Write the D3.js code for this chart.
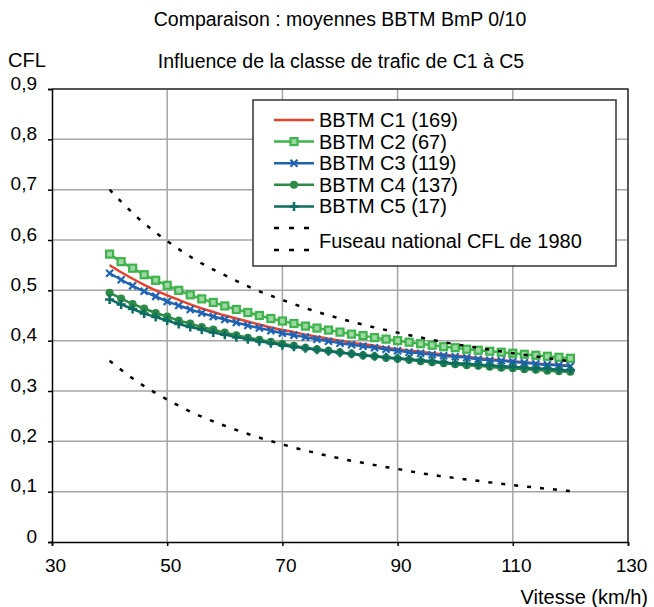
<!DOCTYPE html>
<html>
<head>
<meta charset="utf-8">
<script src="https://cdn.jsdelivr.net/npm/d3@7"></script>
<style>
  body { margin: 0; background: #fff; }
  text { font-family: "Liberation Sans", Arial, sans-serif; fill: #000; }
</style>
</head>
<body>
<svg id="chart" width="654" height="607"></svg>
<script>
// vitesse (km/h), a point every 2 km/h
var speeds = [40, 42, 44, 46, 48, 50, 52, 54, 56, 58, 60, 62, 64, 66, 68, 70, 72, 74, 76, 78, 80,
  82, 84, 86, 88, 90, 92, 94, 96, 98, 100, 102, 104, 106, 108, 110, 112, 114, 116, 118, 120];

var c1 = [0.550, 0.536, 0.523, 0.511, 0.500, 0.490, 0.481, 0.472, 0.464, 0.457, 0.450, 0.444, 0.438, 0.432,
  0.426, 0.421, 0.417, 0.412, 0.408, 0.404, 0.400, 0.396, 0.393, 0.390, 0.386, 0.383, 0.380, 0.378,
  0.375, 0.372, 0.370, 0.368, 0.365, 0.363, 0.361, 0.359, 0.357, 0.355, 0.353, 0.352, 0.350];
var c2 = [0.572, 0.557, 0.544, 0.531, 0.520, 0.510, 0.500, 0.491, 0.483, 0.476, 0.469, 0.462, 0.456, 0.450,
  0.444, 0.439, 0.434, 0.429, 0.425, 0.421, 0.417, 0.413, 0.410, 0.406, 0.403, 0.400, 0.397, 0.394,
  0.391, 0.388, 0.386, 0.383, 0.381, 0.379, 0.377, 0.375, 0.373, 0.371, 0.369, 0.367, 0.365];
var c3 = [0.534, 0.521, 0.509, 0.498, 0.488, 0.478, 0.470, 0.462, 0.455, 0.448, 0.442, 0.436, 0.430, 0.425,
  0.420, 0.415, 0.411, 0.407, 0.403, 0.399, 0.395, 0.392, 0.389, 0.386, 0.383, 0.380, 0.377, 0.375,
  0.372, 0.370, 0.368, 0.366, 0.363, 0.361, 0.360, 0.358, 0.356, 0.354, 0.352, 0.351, 0.349];
var c4 = [0.495, 0.484, 0.473, 0.464, 0.455, 0.448, 0.440, 0.434, 0.427, 0.422, 0.416, 0.411, 0.406, 0.402,
  0.398, 0.394, 0.390, 0.386, 0.383, 0.380, 0.377, 0.374, 0.371, 0.369, 0.366, 0.364, 0.362, 0.359,
  0.357, 0.355, 0.353, 0.351, 0.350, 0.348, 0.346, 0.345, 0.343, 0.342, 0.340, 0.339, 0.338];
var c5 = [0.482, 0.472, 0.463, 0.454, 0.447, 0.440, 0.433, 0.427, 0.422, 0.416, 0.412, 0.407, 0.403, 0.399,
  0.395, 0.391, 0.388, 0.385, 0.382, 0.379, 0.376, 0.374, 0.371, 0.369, 0.367, 0.365, 0.363, 0.361,
  0.359, 0.357, 0.355, 0.354, 0.352, 0.351, 0.349, 0.348, 0.346, 0.345, 0.344, 0.342, 0.341];

// fuseau national CFL 1980 (bornes), a point every 5 km/h
var fuseauSpeeds = [40, 45, 50, 55, 60, 65, 70, 75, 80, 85, 90, 95, 100, 105, 110, 115, 120];
var fuseauHaut = [0.700, 0.643, 0.598, 0.560, 0.530, 0.503, 0.481, 0.461, 0.444, 0.429, 0.416, 0.404,
  0.393, 0.384, 0.375, 0.367, 0.359];
var fuseauBas = [0.360, 0.317, 0.283, 0.254, 0.231, 0.211, 0.194, 0.179, 0.166, 0.155, 0.145, 0.135,
  0.127, 0.120, 0.113, 0.107, 0.101];

var seriesNames = ['BBTM C1 (169)', 'BBTM C2 (67)', 'BBTM C3 (119)', 'BBTM C4 (137)', 'BBTM C5 (17)'];
var fuseauName = 'Fuseau national CFL de 1980';
var xTicks = [30, 50, 70, 90, 110, 130];
var yTicks = [0, 0.1, 0.2, 0.3, 0.4, 0.5, 0.6, 0.7, 0.8, 0.9];

var svg = d3.select('#chart');

var x = d3.scaleLinear().domain([30, 130]).range([52, 628]);
var y = d3.scaleLinear().domain([0, 0.9]).range([542, 89]);

var fmt = function(d) { return d === 0 ? '0' : d3.format('.1f')(d).replace('.', ','); };

// grid
svg.append('g').selectAll('line.h').data(yTicks.slice(1)).enter().append('line')
    .attr('x1', x(30)).attr('x2', x(130))
    .attr('y1', function(d) { return y(d); }).attr('y2', function(d) { return y(d); })
    .attr('stroke', '#a6a6a6').attr('stroke-width', 1.5);
svg.append('g').selectAll('line.v').data(xTicks.slice(1)).enter().append('line')
    .attr('y1', y(0)).attr('y2', y(0.9))
    .attr('x1', function(d) { return x(d); }).attr('x2', function(d) { return x(d); })
    .attr('stroke', '#a6a6a6').attr('stroke-width', 1.5);

// plot frame (top / right)
svg.append('path')
    .attr('d', 'M' + x(30) + ',' + y(0.9) + 'H' + x(130) + 'V' + y(0))
    .attr('fill', 'none').attr('stroke', '#333').attr('stroke-width', 1.5);

// axes
var yAxis = svg.append('g')
    .attr('transform', 'translate(' + x(30) + ',0)')
    .call(d3.axisLeft(y).tickValues(yTicks).tickSize(4).tickFormat(fmt));
var xAxis = svg.append('g')
    .attr('transform', 'translate(0,' + y(0) + ')')
    .call(d3.axisBottom(x).tickValues(xTicks).tickSize(4).tickFormat(d3.format('d')));

[yAxis, xAxis].forEach(function(g) {
  g.select('.domain').attr('stroke', '#000').attr('stroke-width', 1.5);
  g.selectAll('.tick line').attr('stroke', '#000').attr('stroke-width', 1.5);
  g.selectAll('text').style('font-size', '19px').attr('fill', '#000')
      .style('font-family', '"Liberation Sans", Arial, sans-serif');
});
yAxis.selectAll('text').attr('x', -15).attr('dy', '-0.0em');
xAxis.selectAll('text').attr('y', 17).attr('dx', 3);

// series
var colors = ['#e8412c', '#3db54a', '#1f63b3', '#2e8b45', '#0e6d62'];
var values = [c1, c2, c3, c4, c5];
var symbols = [null, 'square', 'x', 'circle', 'plus'];

var line = d3.line()
    .x(function(d) { return x(d[0]); })
    .y(function(d) { return y(d[1]); })
    .curve(d3.curveMonotoneX);

function drawMarker(g, kind, color) {
  if (kind === 'square') {
    g.append('rect').attr('x', -3.5).attr('y', -3.5).attr('width', 7).attr('height', 7)
        .attr('fill', '#9ed7a4').attr('stroke', color).attr('stroke-width', 2.2);
  } else if (kind === 'x') {
    g.append('path').attr('d', 'M-3.5,-3.5L3.5,3.5M-3.5,3.5L3.5,-3.5')
        .attr('stroke', color).attr('stroke-width', 2.2).attr('fill', 'none');
  } else if (kind === 'circle') {
    g.append('circle').attr('r', 4).attr('fill', color);
  } else if (kind === 'plus') {
    g.append('path').attr('d', 'M-4.5,0L4.5,0M0,-4.5L0,4.5')
        .attr('stroke', color).attr('stroke-width', 2.5).attr('fill', 'none');
  }
}

values.forEach(function(vals, i) {
  var pts = speeds.map(function(s, j) { return [s, vals[j]]; });
  var g = svg.append('g');
  g.append('path').datum(pts)
      .attr('d', line)
      .attr('fill', 'none')
      .attr('stroke', colors[i])
      .attr('stroke-width', 2.5);
  if (symbols[i]) {
    g.selectAll('g.m').data(pts).enter().append('g')
        .attr('transform', function(d) { return 'translate(' + x(d[0]) + ',' + y(d[1]) + ')'; })
        .each(function() { drawMarker(d3.select(this), symbols[i], colors[i]); });
  }
});

// fuseau
[fuseauHaut, fuseauBas].forEach(function(vals) {
  var pts = fuseauSpeeds.map(function(s, j) { return [s, vals[j]]; });
  svg.append('path').datum(pts)
      .attr('d', line)
      .attr('fill', 'none')
      .attr('stroke', '#000')
      .attr('stroke-width', 2.5)
      .attr('stroke-dasharray', '4,9');
});

// legend
var legend = svg.append('g');
legend.append('rect')
    .attr('x', 253).attr('y', 100).attr('width', 363).attr('height', 166)
    .attr('fill', '#fff').attr('stroke', '#333').attr('stroke-width', 1.5);
seriesNames.forEach(function(name, i) {
  var cy = 120 + i * 21.6;
  legend.append('line').attr('x1', 274).attr('x2', 314).attr('y1', cy).attr('y2', cy)
      .attr('stroke', colors[i]).attr('stroke-width', 2.5);
  if (symbols[i]) {
    var m = legend.append('g').attr('transform', 'translate(294,' + cy + ')');
    drawMarker(m, symbols[i], colors[i]);
  }
  legend.append('text').attr('x', 319).attr('y', cy + 7)
      .style('font-size', '20px').text(name);
});
[228, 250].forEach(function(cy) {
  legend.append('line').attr('x1', 274).attr('x2', 314).attr('y1', cy).attr('y2', cy)
      .attr('stroke', '#000').attr('stroke-width', 2.5).attr('stroke-dasharray', '5,10');
});
legend.append('text').attr('x', 319).attr('y', 248)
    .style('font-size', '20px').text(fuseauName);

// titles
svg.append('text').attr('x', 340).attr('y', 26).attr('text-anchor', 'middle')
    .style('font-size', '19.5px').text('Comparaison : moyennes BBTM BmP 0/10');
svg.append('text').attr('x', 341).attr('y', 68).attr('text-anchor', 'middle')
    .style('font-size', '19.5px').text('Influence de la classe de trafic de C1 à C5');
svg.append('text').attr('x', 8).attr('y', 67)
    .style('font-size', '20px').text('CFL');
svg.append('text').attr('x', 648).attr('y', 604).attr('text-anchor', 'end')
    .style('font-size', '20px').text('Vitesse (km/h)');
</script>
</body>
</html>
